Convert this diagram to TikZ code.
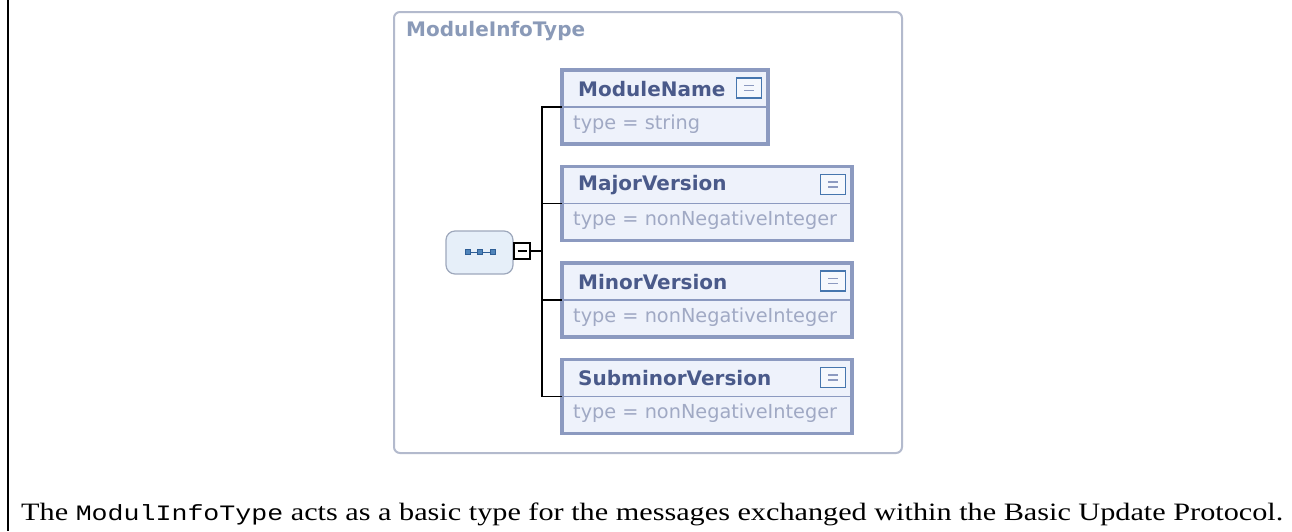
\documentclass[tikz,border=0pt]{standalone}
\usepackage{fontspec}
\usepackage{graphicx}
\setmainfont{Liberation Serif}
\setmonofont{Liberation Mono}
\newfontfamily\xsfont{DejaVu Sans}
\definecolor{elborder}{HTML}{8C9AC0}
\definecolor{elfill}{HTML}{EEF2FB}
\definecolor{eltitle}{HTML}{4A5A8A}
\definecolor{eltype}{HTML}{A0A9C4}
\definecolor{ctborder}{HTML}{B3BACD}
\definecolor{cttitle}{HTML}{8A9AB8}
\definecolor{iconblue}{HTML}{4676AE}
\definecolor{iconfill}{HTML}{F5F8FD}
\definecolor{seqfill}{HTML}{E6EFF9}
\definecolor{seqborder}{HTML}{9EA8BC}
\definecolor{seqsq}{HTML}{4F84BA}
\definecolor{seqsqb}{HTML}{2E5E96}
\tikzset{
  elbox/.style={draw=elborder, line width=3.5pt, fill=elfill, inner sep=0pt, outer sep=0pt},
  divline/.style={draw=elborder, line width=1.8pt},
  titletxt/.style={font=\xsfont\fontsize{20}{22}\selectfont\bfseries, text=eltitle, inner sep=0pt},
  typetxt/.style={font=\xsfont\fontsize{19.3}{22}\selectfont, text=eltype, inner sep=0pt},
  iconbox/.style={draw=iconblue, line width=1.7pt, fill=iconfill, minimum width=25pt, minimum height=20pt, inner sep=0pt},
  iconline/.style={draw=elborder, line width=1.4pt},
  conn/.style={draw=black, line width=1.8pt},
  container/.style={draw=ctborder, line width=2pt, rounded corners=6pt, minimum width=508pt, minimum height=441pt, inner sep=0pt},
  seqbox/.style={draw=seqborder, line width=1.2pt, fill=seqfill, rounded corners=9pt, minimum width=67pt, minimum height=43pt, inner sep=0pt},
  seqsquare/.style={draw=seqsqb, fill=seqsq, line width=0.6pt, minimum size=5pt, inner sep=0pt},
  minusbox/.style={draw=black, fill=white, line width=1.6pt, minimum size=16pt, inner sep=0pt},
}
\newcommand{\xsdelem}[6]{%
  \node[elbox, minimum width=#4, minimum height=74pt, anchor=north west] (#1) at (#2,#3) {};
  \coordinate (#1-c) at ([yshift=-37pt]#1.north west);
  \coordinate (#1-d) at ([yshift=-37pt]#1.north east);
  \draw[divline] (#1-c) -- (#1-d);
  \node[titletxt, anchor=west] (#1-t) at ([xshift=16pt,yshift=-19pt]#1.north west) {#5};
  \node[typetxt, anchor=west] (#1-ty) at ([xshift=11pt,yshift=-54pt]#1.north west) {#6};
  \node[iconbox] (#1-i) at ([xshift=-19pt,yshift=-18pt]#1.north east) {};
  \draw[iconline] ([xshift=-5pt,yshift=2.5pt]#1-i.center) -- ([xshift=5pt,yshift=2.5pt]#1-i.center);
  \draw[iconline] ([xshift=-5pt,yshift=-2.5pt]#1-i.center) -- ([xshift=5pt,yshift=-2.5pt]#1-i.center);
}
\begin{document}
\begin{tikzpicture}[x=1pt,y=-1pt]
\useasboundingbox (0,0) rectangle (1292,531);
\fill[white] (0,0) rectangle (1292,531);
% left rule
\coordinate (l1) at (8,0);
\coordinate (l2) at (8,531);
\draw[line width=2pt] (l1) -- (l2);
% container
\node[container] (ct) at (648,232.5) {};
\node[font=\xsfont\fontsize{20}{22}\selectfont\bfseries, text=cttitle, anchor=west, inner sep=0pt] (ctt) at (406,31) {ModuleInfoType};
% elements
\xsdelem{mn}{562}{70}{206}{ModuleName}{type = string}
\xsdelem{mj}{562}{166.5}{290}{MajorVersion}{type = nonNegativeInteger}
\xsdelem{mi}{562}{263}{290}{MinorVersion}{type = nonNegativeInteger}
\xsdelem{sv}{562}{359.5}{290}{SubminorVersion}{type = nonNegativeInteger}
% sequence compositor
\node[seqbox] (seq) at (479.5,252.5) {};
\node[seqsquare] (sq1) at (467.5,252) {};
\node[seqsquare] (sq2) at (480,252) {};
\node[seqsquare] (sq3) at (492.5,252) {};
\draw[draw=seqsqb, line width=0.8pt] (sq1) -- (sq2) (sq2) -- (sq3);
\node[minusbox] (mb) at (522,251) {};
\draw[line width=1.4pt] ([xshift=-4.5pt]mb.center) -- ([xshift=4.5pt]mb.center);
% connectors
\coordinate (j) at (542,251);
\draw[conn] (mb.east) -- (j);
\draw[conn] (mn-c) -- (mn-c -| j) -- (sv-c -| j) -- (sv-c);
\draw[conn] (mj-c) -- (mj-c -| j);
\draw[conn] (mi-c) -- (mi-c -| j);
% caption
\node[anchor=base west, inner sep=0pt] (cap) at (21,520) {\resizebox{1262pt}{\height}{\fontsize{25}{28}\selectfont The {\ttfamily\fontsize{22}{28}\selectfont ModulInfoType} acts as a basic type for the messages exchanged within the Basic Update Protocol.}};
\end{tikzpicture}
\end{document}
